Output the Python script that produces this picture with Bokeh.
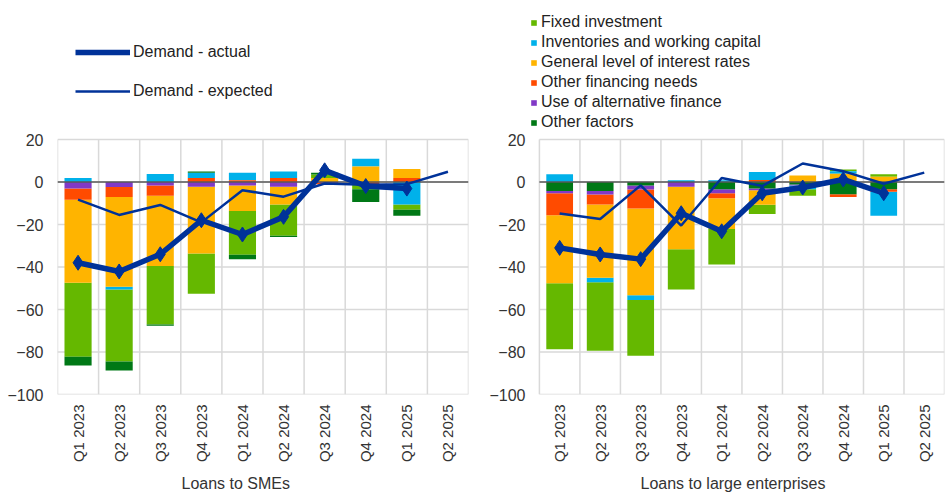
import numpy as np
from bokeh.plotting import figure
from bokeh.models import (ColumnDataSource, Legend, LegendItem, FixedTicker, Range1d, Title)
from bokeh.layouts import row
from bokeh.embed import file_html
from bokeh.resources import INLINE

quarters = ["Q1 2023", "Q2 2023", "Q3 2023", "Q4 2023", "Q1 2024",
            "Q2 2024", "Q3 2024", "Q4 2024", "Q1 2025", "Q2 2025"]
y_ticks = [-100, -80, -60, -40, -20, 0, 20]

factor_names = ["Fixed investment", "Inventories and working capital",
                "General level of interest rates", "Other financing needs",
                "Use of alternative finance", "Other factors"]
factor_colors = ["#65b800", "#00b1ea", "#ffb400", "#ff4b00", "#8139c6", "#007816"]

# Loans to SMEs
sme_fixed = [-34.8, -33.9, -27.5, -19.0, -20.6, -14.7, 1.6, -2.3, -2.5, 0]
sme_inventories = [1.9, -1.3, 3.8, 2.5, 3.6, 3.1, 0, 3.6, -10.6, 0]
sme_rates = [-39.1, -42.3, -33.0, -31.4, -12.0, -8.4, 1.9, 7.3, 4.2, 0]
sme_other_financing = [-5.3, -4.7, -4.8, 1.9, 0.8, 1.9, -0.5, -1.1, 1.9, 0]
sme_alternative = [-3.0, -2.3, -1.7, -2.2, -1.6, -2.2, -0.5, 0, 0, 0]
sme_other = [-4.2, -4.2, -0.7, 0.6, -2.2, -0.6, 0.9, -6.0, -2.8, 0]
sme_actual = [-38.0, -42.1, -34.0, -18.0, -24.7, -16.4, 5.5, -1.9, -3.1]
sme_expected = [-8.3, -15.5, -10.8, -19.0, -3.9, -6.9, -0.7, -1.3, -1.0, 4.8]

# Loans to large enterprises
le_fixed = [-31.0, -32.2, -26.3, -19.0, -16.7, -4.4, -3.1, 0.8, 1.1, 0]
le_inventories = [3.7, -2.2, -2.2, 0.8, 0.8, 3.7, -1.7, 1.2, -11.3, 0]
le_rates = [-32.1, -34.4, -40.8, -29.4, -14.5, -6.8, 3.1, 3.9, 2.5, 0]
le_other_financing = [-10.3, -4.7, -9.0, 0, -2.3, 1.0, 0, -1.2, -1.2, 0]
le_alternative = [-1.1, -1.7, -1.9, -2.2, -1.9, -0.9, -0.5, 0, 0, 0]
le_other = [-4.2, -4.2, -1.6, 0, -3.4, -3.0, -1.2, -5.8, -3.4, 0]
le_actual = [-31.0, -34.1, -36.3, -14.7, -23.2, -5.3, -2.6, 1.2, -5.3]
le_expected = [-14.8, -17.4, -1.6, -20.5, 1.9, -1.9, 8.7, 5.1, -0.8, 4.4]

FONT = "Liberation Sans"
TEXT = "#333333"
GRID = "#d9d9d9"
BLUE = "#003299"
FRAME_H = 394
PX_PER_UNIT = 255 / 120.0


def stack(series, order):
    n = len(quarters)
    pos = np.zeros(n)
    neg = np.zeros(n)
    out = {}
    for k in order:
        v = np.asarray(series[k], dtype=float)
        bottom = np.where(v >= 0, pos, neg)
        top = bottom + v
        pos = np.where(v >= 0, top, pos)
        neg = np.where(v < 0, top, neg)
        out[k] = (bottom, top)
    return out


def panel(title, title_offset, frame_w, x_start, min_left, min_right, label_standoff,
          series, order, actual, expected):
    n = len(quarters)
    xs = np.arange(n) + 0.5
    y_lo, y_hi = y_ticks[0], y_ticks[-1]
    p = figure(frame_width=frame_w, frame_height=FRAME_H,
               x_range=Range1d(x_start, n),
               y_range=Range1d(y_lo, y_lo + FRAME_H / PX_PER_UNIT),
               output_backend="svg", toolbar_location=None,
               min_border_left=min_left, min_border_right=min_right,
               min_border_top=0, min_border_bottom=60)
    p.outline_line_color = None
    p.xgrid.grid_line_color = None
    p.ygrid.grid_line_color = None
    p.xaxis.ticker = FixedTicker(ticks=list(xs))
    p.xaxis.major_label_overrides = {float(x): q for x, q in zip(xs, quarters)}
    p.xaxis.major_label_orientation = np.pi / 2
    p.yaxis.ticker = FixedTicker(ticks=y_ticks)
    for ax in (p.xaxis, p.yaxis):
        ax.axis_line_color = None
        ax.major_tick_line_color = None
        ax.minor_tick_line_color = None
        ax.major_tick_out = 0
        ax.major_tick_in = 0
        ax.major_label_text_font = FONT
        ax.major_label_text_color = TEXT
    p.yaxis.major_label_text_font_size = "16px"
    p.xaxis.major_label_text_font_size = "15px"
    p.yaxis.major_label_standoff = label_standoff
    p.xaxis.major_label_standoff = 10
    p.add_layout(Title(text=title, align="left", offset=title_offset,
                       text_font=FONT, text_font_size="16px",
                       text_font_style="normal", text_color=TEXT, standoff=14),
                 "below")

    # plot-area grid: category boundaries and value ticks, limited to the value axis span
    bounds = list(range(n + 1))
    p.segment(x0=bounds, y0=[y_lo] * len(bounds), x1=bounds, y1=[y_hi] * len(bounds),
              line_color=GRID, line_width=1.5)
    p.segment(x0=[0] * len(y_ticks), y0=y_ticks, x1=[n] * len(y_ticks), y1=y_ticks,
              line_color=GRID, line_width=1.5)

    stacks = stack(series, order)
    renderers = {}
    for k in range(len(factor_names)):
        b, t = stacks[k]
        src = ColumnDataSource(dict(x=xs, bottom=b, top=t))
        renderers[k] = p.vbar(x="x", bottom="bottom", top="top", width=0.66,
                              source=src, fill_color=factor_colors[k],
                              line_color=None)
    p.segment(x0=[0], y0=[0], x1=[n], y1=[0], line_color="#595959", line_width=1.5)
    r_exp = p.line(xs[:len(expected)], expected, line_color=BLUE, line_width=2.5)
    r_act = p.line(xs[:len(actual)], actual, line_color=BLUE, line_width=5.5)
    p.scatter(xs[:len(actual)], actual, marker="diamond", size=15,
              fill_color=BLUE, line_color=BLUE)
    return p, renderers, r_act, r_exp


sme_series = [sme_fixed, sme_inventories, sme_rates, sme_other_financing,
              sme_alternative, sme_other]
le_series = [le_fixed, le_inventories, le_rates, le_other_financing,
             le_alternative, le_other]

p1, bars1, act1, exp1 = panel("Loans to SMEs", 124, 411, 0.0, 57, 12, 14, sme_series,
                              [4, 3, 2, 1, 0, 5], sme_actual, sme_expected)
p2, bars2, act2, exp2 = panel("Loans to large enterprises", 110, 414, -0.22, 50, 1, 5,
                              le_series, [5, 4, 3, 2, 1, 0], le_actual, le_expected)

line_legend = Legend(items=[LegendItem(label="Demand - actual", renderers=[act1]),
                            LegendItem(label="Demand - expected", renderers=[exp1])],
                     location=(18, 293), glyph_width=55, glyph_height=20,
                     label_height=20, spacing=19, padding=0, margin=0,
                     border_line_color=None, background_fill_alpha=0,
                     label_text_font=FONT, label_text_font_size="16px",
                     label_text_color="#222222", label_standoff=3)
p1.add_layout(line_legend)

bar_legend = Legend(items=[LegendItem(label=factor_names[k], renderers=[bars2[k]])
                           for k in range(len(factor_names))],
                    location=(0, 262), glyph_width=7, glyph_height=7,
                    label_height=20, spacing=0, padding=0, margin=0,
                    border_line_color=None, background_fill_alpha=0,
                    label_text_font=FONT, label_text_font_size="16px",
                    label_text_color="#222222", label_standoff=4)
p2.add_layout(bar_legend)

layout = row(p1, p2)
open("out.html", "w").write(file_html(layout, INLINE))
